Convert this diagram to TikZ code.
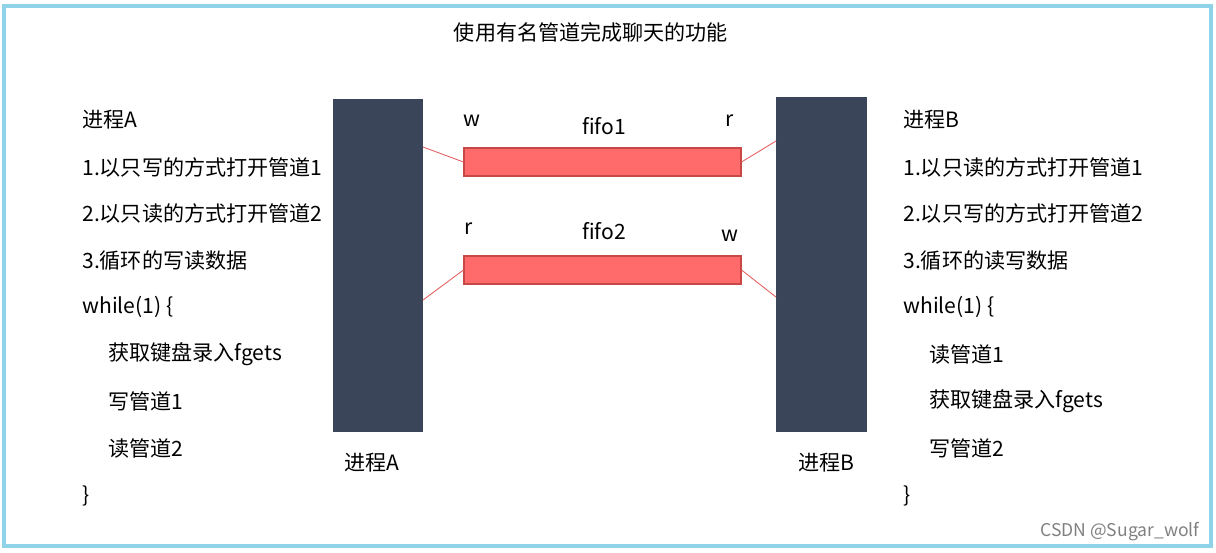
\documentclass[tikz,border=0pt]{standalone}
\usepackage{fontspec}
\setmainfont{Noto Sans CJK SC}
\definecolor{bar}{HTML}{3B4559}
\definecolor{pipe}{HTML}{FF6B6B}
\definecolor{pipeb}{HTML}{C84848}
\definecolor{frame}{HTML}{8FD3E8}
\begin{document}
\begin{tikzpicture}[x=0.02cm,y=-0.02cm,
  txt/.style={anchor=west,inner sep=0,font=\fontsize{12pt}{14pt}\selectfont},
  lbl/.style={inner sep=0,font=\fontsize{12pt}{14pt}\selectfont},
  procbar/.style={fill=bar,draw=none},
  pipebox/.style={fill=pipe,draw=pipeb,line width=0.6pt},
  link/.style={draw=pipe!90!black,line width=0.5pt}]
\useasboundingbox (0,0) rectangle (1216,552);
\draw[frame,line width=2.5pt] (4,6) rectangle (1211,546);
\node[lbl] (title) at (591,32) {使用有名管道完成聊天的功能};
\node[procbar,minimum width=90*0.02cm,minimum height=333*0.02cm,inner sep=0] (A) at (378,265.5) {};
\node[procbar,minimum width=91*0.02cm,minimum height=335*0.02cm,inner sep=0] (B) at (821.5,264.5) {};
\node[pipebox,minimum width=277*0.02cm,minimum height=28*0.02cm,inner sep=0] (f1) at (602.5,162) {};
\node[pipebox,minimum width=277*0.02cm,minimum height=28*0.02cm,inner sep=0] (f2) at (602.5,270) {};
\coordinate (a1) at (423,147);
\coordinate (a2) at (423,300);
\coordinate (b1) at (776,141);
\coordinate (b2) at (776,297);
\draw[link] (a1) -- (f1.west);
\draw[link] (f1.east) -- (b1);
\draw[link] (a2) -- (f2.west);
\draw[link] (f2.east) -- (b2);
\node[lbl] (w1) at (472,121) {w};
\node[lbl] (n1) at (604,126) {fifo1};
\node[lbl] (r1) at (730,121) {r};
\node[lbl] (r2) at (469,229) {r};
\node[lbl] (n2) at (604,231) {fifo2};
\node[lbl] (w2) at (730,236) {w};
\node[lbl] (la) at (372,463) {进程A};
\node[lbl] (lb) at (826,463) {进程B};
\node[txt] (l1) at (82,120) {进程A};
\node[txt] (l2) at (82,167) {1.以只写的方式打开管道1};
\node[txt] (l3) at (82,213) {2.以只读的方式打开管道2};
\node[txt] (l4) at (82,261) {3.循环的写读数据};
\node[txt] (l5) at (82,307) {while(1) \{};
\node[txt] (l6) at (108,354) {获取键盘录入fgets};
\node[txt] (l7) at (108,401) {写管道1};
\node[txt] (l8) at (108,448) {读管道2};
\node[txt] (l9) at (82,496) {\}};
\node[txt] (r1t) at (903,120) {进程B};
\node[txt] (r2t) at (903,167) {1.以只读的方式打开管道1};
\node[txt] (r3t) at (903,213) {2.以只写的方式打开管道2};
\node[txt] (r4t) at (903,261) {3.循环的读写数据};
\node[txt] (r5t) at (903,307) {while(1) \{};
\node[txt] (r6t) at (929,354) {读管道1};
\node[txt] (r7t) at (929,401) {获取键盘录入fgets};
\node[txt] (r8t) at (929,448) {写管道2};
\node[txt] (r9t) at (903,496) {\}};
\node[inner sep=0,text=gray,font=\fontsize{10pt}{12pt}\selectfont] (wm) at (1120,532) {CSDN @Sugar\_wolf};
\end{tikzpicture}
\end{document}
